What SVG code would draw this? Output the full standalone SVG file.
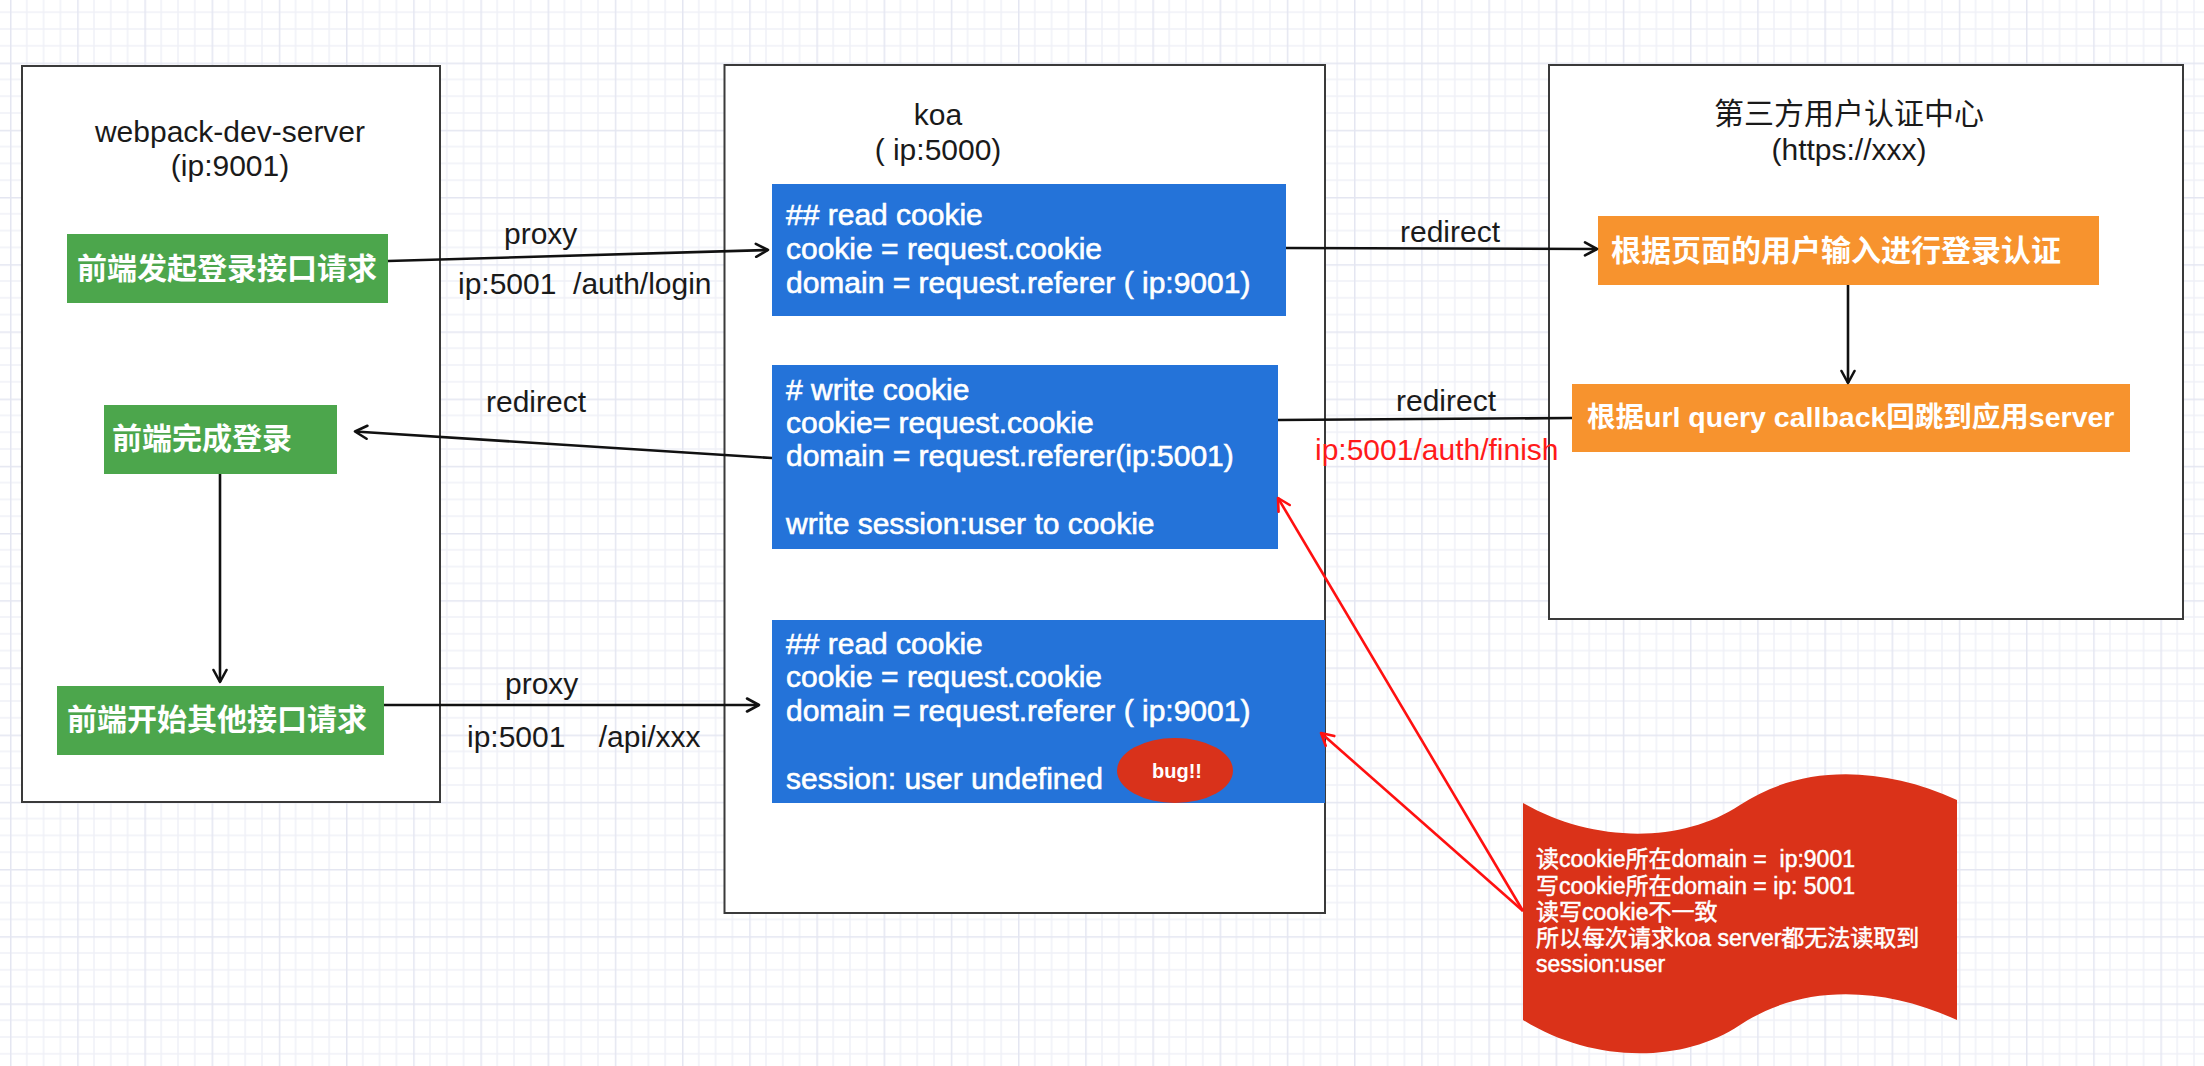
<svg xmlns="http://www.w3.org/2000/svg" width="2204" height="1066" viewBox="0 0 2204 1066">
<defs>
  <pattern id="grid" x="10" y="62.6" width="67.2" height="67.2" patternUnits="userSpaceOnUse">
    <path d="M16.8,0V67.2M33.6,0V67.2M50.4,0V67.2M0,16.8H67.2M0,33.6H67.2M0,50.4H67.2" stroke="#f0f1f7" stroke-width="1.5" fill="none"/>
    <path d="M0.75,0V67.2M0,0.75H67.2" stroke="#e4e6f1" stroke-width="1.5" fill="none"/>
  </pattern>
  <marker id="arr" markerUnits="userSpaceOnUse" viewBox="0 0 16 16" markerWidth="16" markerHeight="16" refX="14" refY="8" orient="auto">
    <path d="M2,1.5 L14,8 L2,14.5" fill="none" stroke="#111" stroke-width="2.6" stroke-linecap="round" stroke-linejoin="round"/>
  </marker>
  <marker id="arrR" markerUnits="userSpaceOnUse" viewBox="0 0 16 16" markerWidth="16" markerHeight="16" refX="14" refY="8" orient="auto">
    <path d="M2,1.5 L14,8 L2,14.5" fill="none" stroke="#ff1010" stroke-width="2.6" stroke-linecap="round" stroke-linejoin="round"/>
  </marker>
</defs>
<style>
  text { font-family: "Liberation Sans", Arial, "Noto Sans CJK SC", sans-serif; white-space: pre; }
  .lbl { font-size: 30px; fill: #1a1a1a; }
  .blk { font-size: 30px; fill: #ffffff; stroke: #ffffff; stroke-width: 0.6px; }
  .cjk { font-size: 30px; fill: #ffffff; font-weight: bold; }
  .note { font-size: 23px; fill: #ffffff; stroke: #ffffff; stroke-width: 0.5px; }
  .red { font-size: 30px; fill: #ff1a1a; }
  .cont { fill: #ffffff; stroke: #3a3a3a; stroke-width: 2; }
  .green { fill: #4ca64c; }
  .blue { fill: #2473d9; }
  .orange { fill: #f7932e; }
  .line { fill: none; stroke: #111; stroke-width: 2.6; }
  .rline { fill: none; stroke: #ff1010; stroke-width: 2.6; }
</style>
<rect x="0" y="0" width="2204" height="1066" fill="#ffffff"/>
<rect x="0" y="0" width="2204" height="1066" fill="url(#grid)"/>

<g id="webpack-dev-server">
  <rect class="cont" x="22" y="66" width="418" height="736"/>
  <text class="lbl" x="230" y="142" text-anchor="middle">webpack-dev-server</text>
  <text class="lbl" x="230" y="176" text-anchor="middle">(ip:9001)</text>
</g>
<g id="koa">
  <rect class="cont" x="724.5" y="65" width="600.5" height="848"/>
  <text class="lbl" x="938" y="125" text-anchor="middle">koa</text>
  <text class="lbl" x="938" y="160" text-anchor="middle">( ip:5000)</text>
</g>
<g id="auth-center">
  <rect class="cont" x="1549" y="65" width="634" height="554"/>
  <text class="lbl" x="1849" y="124" text-anchor="middle">第三方用户认证中心</text>
  <text class="lbl" x="1849" y="160" text-anchor="middle">(https://xxx)</text>
</g>

<g id="fe-login-request">
  <rect class="green" x="67" y="234" width="321" height="69"/>
  <text class="cjk" x="77" y="279">前端发起登录接口请求</text>
</g>
<g id="fe-login-done">
  <rect class="green" x="104" y="405" width="233" height="69"/>
  <text class="cjk" x="112" y="449">前端完成登录</text>
</g>
<g id="fe-other-request">
  <rect class="green" x="57" y="686" width="327" height="69"/>
  <text class="cjk" x="67" y="730">前端开始其他接口请求</text>
</g>

<g id="koa-read-cookie-1">
  <rect class="blue" x="772" y="184" width="514" height="132"/>
  <text class="blk" x="786" y="225">## read cookie</text>
  <text class="blk" x="786" y="259">cookie = request.cookie</text>
  <text class="blk" x="786" y="293">domain = request.referer ( ip:9001)</text>
</g>
<g id="koa-write-cookie">
  <rect class="blue" x="772" y="365" width="506" height="184"/>
  <text class="blk" x="786" y="400"># write cookie</text>
  <text class="blk" x="786" y="433">cookie= request.cookie</text>
  <text class="blk" x="786" y="466">domain = request.referer(ip:5001)</text>
  <text class="blk" x="786" y="534">write session:user to cookie</text>
</g>
<g id="koa-read-cookie-2">
  <rect class="blue" x="772" y="620" width="553" height="183"/>
  <text class="blk" x="786" y="654">## read cookie</text>
  <text class="blk" x="786" y="687">cookie = request.cookie</text>
  <text class="blk" x="786" y="721">domain = request.referer ( ip:9001)</text>
  <text class="blk" x="786" y="789">session: user undefined</text>
</g>
<g id="bug">
  <ellipse cx="1175" cy="770.5" rx="58" ry="32.5" fill="#d9321b"/>
  <text x="1177" y="778" text-anchor="middle" style="font-size:20px;font-weight:bold;fill:#ffffff">bug!!</text>
</g>

<g id="auth-login">
  <rect class="orange" x="1598" y="216" width="501" height="69"/>
  <text class="cjk" x="1611" y="261">根据页面的用户输入进行登录认证</text>
</g>
<g id="auth-callback">
  <rect class="orange" x="1572" y="384" width="558" height="68"/>
  <text class="cjk" x="1587" y="427" style="font-size:28.5px">根据url query callback回跳到应用server</text>
</g>

<g id="note">
  <path d="M1523,803 C1590,842 1680,845 1740,805 C1800,765 1880,765 1957,800 L1957,1020 C1880,985 1800,985 1740,1025 C1680,1065 1590,1062 1523,1020 Z" fill="#da3219"/>
  <text class="note" x="1536" y="867">读cookie所在domain =  ip:9001</text>
  <text class="note" x="1536" y="894">写cookie所在domain = ip: 5001</text>
  <text class="note" x="1536" y="920">读写cookie不一致</text>
  <text class="note" x="1536" y="946">所以每次请求koa server都无法读取到</text>
  <text class="note" x="1536" y="972">session:user</text>
</g>

<g id="connectors">
  <line class="line" x1="388" y1="261" x2="768" y2="250" marker-end="url(#arr)"/>
  <text class="lbl" x="504" y="244">proxy</text>
  <text class="lbl" x="458" y="294" xml:space="preserve">ip:5001  /auth/login</text>

  <line class="line" x1="772" y1="458" x2="355" y2="431.5" marker-end="url(#arr)"/>
  <text class="lbl" x="486" y="412">redirect</text>

  <line class="line" x1="220" y1="474" x2="220" y2="682" marker-end="url(#arr)"/>

  <line class="line" x1="384" y1="705" x2="759" y2="705" marker-end="url(#arr)"/>
  <text class="lbl" x="505" y="694">proxy</text>
  <text class="lbl" x="467" y="747" xml:space="preserve">ip:5001    /api/xxx</text>

  <line class="line" x1="1286" y1="248" x2="1597" y2="249" marker-end="url(#arr)"/>
  <text class="lbl" x="1400" y="242">redirect</text>

  <line class="line" x1="1848" y1="285" x2="1848" y2="383" marker-end="url(#arr)"/>

  <line class="line" x1="1572" y1="418" x2="1278" y2="420"/>
  <text class="lbl" x="1396" y="411">redirect</text>
  <text class="red" x="1315" y="460">ip:5001/auth/finish</text>

  <line class="rline" x1="1523" y1="911" x2="1278" y2="498" marker-end="url(#arrR)"/>
  <line class="rline" x1="1523" y1="911" x2="1321" y2="733" marker-end="url(#arrR)"/>
</g>
</svg>
